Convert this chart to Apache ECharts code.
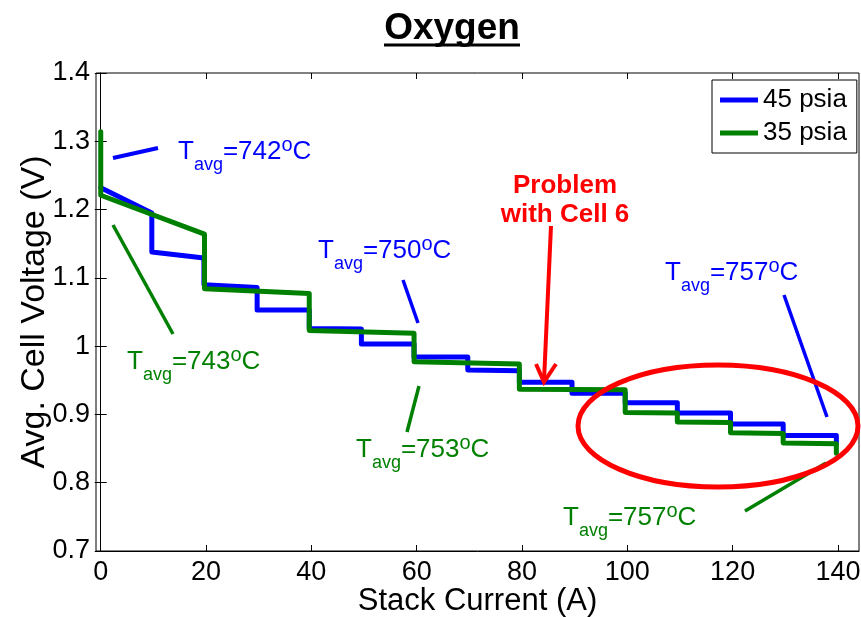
<!DOCTYPE html>
<html>
<head>
<meta charset="utf-8">
<script src="https://cdn.jsdelivr.net/npm/echarts@6/dist/echarts.min.js"></script>
<style>
  html, body { margin: 0; padding: 0; background: #fff; }
  #chart { width: 861px; height: 617px; }
</style>
</head>
<body>
<div id="chart"></div>
<script>
// Stack current (A) and average cell voltage (V) along each polarization sweep
const current45 = [0, 9.7, 9.7, 19.6, 19.6, 29.7, 29.7, 39.6, 39.6, 49.5, 49.5, 59.5, 59.5, 69.7, 69.7,
  79.5, 79.5, 89.5, 89.5, 99.6, 99.6, 109.5, 109.5, 119.6, 119.6, 129.6, 129.6, 139.7, 139.7];
const voltage45 = [1.232, 1.195, 1.138, 1.129, 1.090, 1.086, 1.053, 1.053, 1.026, 1.025, 1.003, 1.003, 0.984, 0.984, 0.965,
  0.964, 0.947, 0.947, 0.931, 0.931, 0.917, 0.917, 0.902, 0.902, 0.886, 0.886, 0.869, 0.869, 0.858];

const current35 = [0, 0, 19.7, 19.7, 39.6, 39.6, 59.5, 59.5, 79.5, 79.5, 99.6, 99.6, 109.5, 109.5,
  119.6, 119.6, 129.6, 129.6, 139.7, 139.7];
const voltage35 = [1.314, 1.221, 1.164, 1.084, 1.077, 1.023, 1.019, 0.977, 0.974, 0.937, 0.936, 0.903, 0.902, 0.889,
  0.888, 0.873, 0.872, 0.858, 0.857, 0.843];

const seriesNames = ['45 psia', '35 psia'];
const xTicks = [0, 20, 40, 60, 80, 100, 120, 140];
const yTicks = [0.7, 0.8, 0.9, 1.0, 1.1, 1.2, 1.3, 1.4];

// Average stack temperature callouts
const tempNotes = [
  { temp: '742', color: '#0000ff', x: 178, y: 130 },
  { temp: '743', color: '#008000', x: 127, y: 340 },
  { temp: '750', color: '#0000ff', x: 318, y: 229 },
  { temp: '753', color: '#008000', x: 356, y: 428 },
  { temp: '757', color: '#0000ff', x: 665, y: 251 },
  { temp: '757', color: '#008000', x: 563, y: 496 }
];
const leaders = [
  { color: '#0000ff', pts: [[113, 158], [158, 148]], w: 4 },
  { color: '#008000', pts: [[113, 225], [173, 334]], w: 3.5 },
  { color: '#0000ff', pts: [[403, 280], [418, 323]], w: 3.5 },
  { color: '#008000', pts: [[419, 386], [407, 432]], w: 3.5 },
  { color: '#0000ff', pts: [[784, 295], [827, 417]], w: 3.5 },
  { color: '#008000', pts: [[745, 511], [826, 463]], w: 3.5 }
];

const FONT = '"Liberation Sans", Arial, sans-serif';

function pairs(xs, ys) { return xs.map((x, i) => [x, ys[i]]); }

const graphics = [];
// title with underline
graphics.push({
  type: 'text', x: 452, y: 10,
  style: { text: 'Oxygen', fill: '#000', font: 'bold 37px ' + FONT, align: 'center', verticalAlign: 'top' }
});
graphics.push({
  type: 'line', shape: { x1: 384, y1: 45, x2: 520, y2: 45 },
  style: { stroke: '#000', lineWidth: 3 }
});
tempNotes.forEach(n => {
  graphics.push({
    type: 'text', x: n.x, y: n.y, z: 50,
    style: {
      text: '{m|T}{s|avg}{m|=' + n.temp + '}{p|o}{m|C}',
      fill: n.color, font: '26px ' + FONT, verticalAlign: 'top',
      rich: {
        m: { fontSize: 26, lineHeight: 44, fill: n.color, fontFamily: FONT },
        s: { fontSize: 18, lineHeight: 20, verticalAlign: 'bottom', fill: n.color, fontFamily: FONT },
        p: { fontSize: 20, padding: [5, 0, 0, 0], verticalAlign: 'top', fill: n.color, fontFamily: FONT }
      }
    }
  });
});
leaders.forEach(l => {
  graphics.push({
    type: 'line', z: 50,
    shape: { x1: l.pts[0][0], y1: l.pts[0][1], x2: l.pts[1][0], y2: l.pts[1][1] },
    style: { stroke: l.color, lineWidth: l.w }
  });
});
// cell 6 note, arrow and highlight ring
graphics.push({
  type: 'text', x: 565, y: 171, z: 50,
  style: { text: 'Problem\nwith Cell 6', fill: '#ff0000', font: 'bold 26px ' + FONT,
           align: 'center', verticalAlign: 'top', lineHeight: 29 }
});
graphics.push({
  type: 'line', z: 50, shape: { x1: 551, y1: 226, x2: 544, y2: 381 },
  style: { stroke: '#ff0000', lineWidth: 4 }
});
graphics.push({
  type: 'polyline', z: 50, shape: { points: [[536, 364], [544, 382], [556, 364]] },
  style: { stroke: '#ff0000', lineWidth: 4, fill: null }
});
graphics.push({
  type: 'ellipse', z: 50, shape: { cx: 718, cy: 426, rx: 140, ry: 61 },
  style: { stroke: '#ff0000', lineWidth: 5, fill: null }
});

const chart = echarts.init(document.getElementById('chart'), null, { renderer: 'canvas' });
chart.setOption({
  animation: false,
  backgroundColor: '#fff',
  grid: { left: 96, right: 2, top: 73, bottom: 66, outerBoundsMode: 'none', containLabel: false,
          show: true, borderColor: '#000', borderWidth: 1, backgroundColor: 'transparent' },
  legend: {
    data: seriesNames, orient: 'vertical', left: 712, top: 80,
    backgroundColor: '#fff', borderColor: '#000', borderWidth: 1,
    padding: [7, 10, 7, 8], itemGap: 7, itemWidth: 38, itemHeight: 5, icon: 'rect',
    textStyle: { fontSize: 26, color: '#000', fontFamily: FONT }
  },
  xAxis: [{
    type: 'value', min: -0.9, max: 144,
    name: 'Stack Current (A)', nameLocation: 'middle', nameGap: 35, nameMoveOverlap: false,
    nameTextStyle: { fontSize: 31, color: '#000', fontFamily: FONT },
    axisLine: { show: true, lineStyle: { color: '#000', width: 1 } },
    axisTick: { show: true, inside: true, length: 6, customValues: xTicks, lineStyle: { color: '#000' } },
    axisLabel: { customValues: xTicks, margin: 8, fontSize: 27, color: '#000', fontFamily: FONT },
    splitLine: { show: false }
  }, {
    type: 'value', min: -0.9, max: 144, position: 'top',
    axisLine: { show: false },
    axisTick: { show: true, inside: true, length: 6, customValues: xTicks, lineStyle: { color: '#000' } },
    axisLabel: { show: false }, splitLine: { show: false }
  }],
  yAxis: [{
    type: 'value', min: 0.7, max: 1.4,
    name: 'Avg. Cell Voltage (V)', nameLocation: 'middle', nameGap: 44, nameMoveOverlap: false,
    nameTextStyle: { fontSize: 34, color: '#000', fontFamily: FONT },
    axisLine: { show: true, lineStyle: { color: '#000', width: 1 } },
    axisTick: { show: true, inside: true, length: 6, customValues: yTicks, lineStyle: { color: '#000' } },
    axisLabel: { customValues: yTicks, margin: 6, fontSize: 27, color: '#000', fontFamily: FONT,
                 formatter: v => String(Math.round(v * 10) / 10) },
    splitLine: { show: false }
  }, {
    type: 'value', min: 0.7, max: 1.4, position: 'right',
    axisLine: { show: false },
    axisTick: { show: true, inside: true, length: 6, customValues: yTicks, lineStyle: { color: '#000' } },
    axisLabel: { show: false }, splitLine: { show: false }
  }],
  series: [{
    name: seriesNames[0], type: 'line', data: pairs(current45, voltage45),
    showSymbol: false, symbol: 'none', color: '#0000ff',
    lineStyle: { color: '#0000ff', width: 5, cap: 'round', join: 'round' }
  }, {
    name: seriesNames[1], type: 'line', data: pairs(current35, voltage35),
    showSymbol: false, symbol: 'none', color: '#008000',
    lineStyle: { color: '#008000', width: 5, cap: 'round', join: 'round' }
  }],
  graphic: graphics
});
</script>
</body>
</html>
